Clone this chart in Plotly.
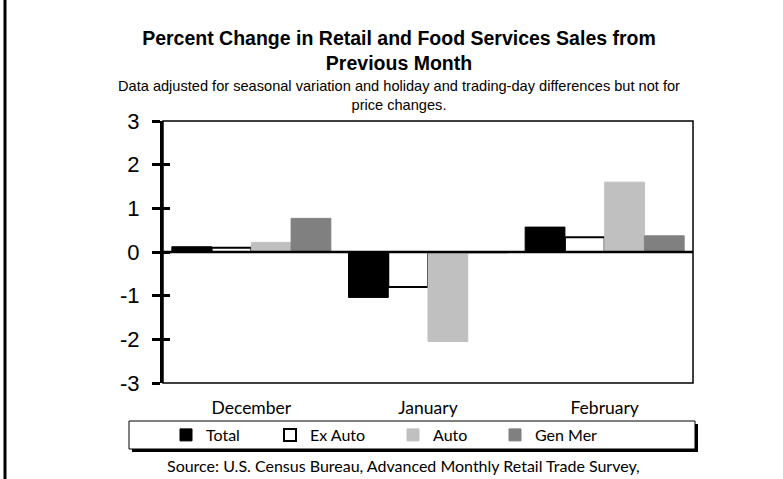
import plotly.graph_objects as go

months = ['December', 'January', 'February']
total = [0.12, -1.04, 0.57]
ex_auto = [0.10, -0.80, 0.34]
auto = [0.22, -2.05, 1.60]
gen_mer = [0.77, -0.02, 0.37]

y_ticks = [3, 2, 1, 0, -1, -2, -3]
y_labels = ['3', '2', '1', '0', '-1', '-2', '-3']

W, H = 783, 479
L, R, T, B = 163, 90, 121, 96
pw, ph = W - L - R, H - T - B


def px_x(p):
    return (p - L) / pw


def px_y(p):
    return (H - B - p) / ph


fig = go.Figure()
fig.add_trace(go.Bar(x=months, y=total, name='Total', legend='legend',
                     marker=dict(color='black', line=dict(color='black', width=1))))
fig.add_trace(go.Bar(x=months, y=ex_auto, name='Ex Auto', legend='legend2',
                     marker=dict(color='white', line=dict(color='black', width=2))))
fig.add_trace(go.Bar(x=months, y=auto, name='Auto', legend='legend3',
                     marker=dict(color='#c0c0c0', line=dict(color='#c0c0c0', width=1))))
fig.add_trace(go.Bar(x=months, y=gen_mer, name='Gen Mer', legend='legend4',
                     marker=dict(color='#808080', line=dict(color='#808080', width=1))))

# invisible trace on a second y axis to get the inner half of the ticks
fig.add_trace(go.Scatter(x=months, y=[None] * 3, yaxis='y2', showlegend=False,
                         hoverinfo='skip'))

shapes = [
    # plot frame
    dict(type='rect', xref='paper', yref='paper', x0=0, x1=1, y0=0, y1=1,
         line=dict(color='black', width=1.5), layer='above'),
    # zero line
    dict(type='line', xref='paper', yref='y', x0=0, x1=1, y0=0, y1=0,
         line=dict(color='black', width=2.5), layer='above'),
    # legend shadow and box
    dict(type='rect', xref='paper', yref='paper',
         x0=px_x(132), x1=px_x(698), y0=px_y(424), y1=px_y(452),
         line=dict(width=0), fillcolor='black', layer='below'),
    dict(type='rect', xref='paper', yref='paper',
         x0=px_x(129), x1=px_x(695), y0=px_y(421), y1=px_y(449),
         line=dict(color='black', width=1), fillcolor='white', layer='below'),
    # page border on the left
    dict(type='line', xref='paper', yref='paper',
         x0=px_x(5), x1=px_x(5), y0=px_y(0), y1=px_y(H),
         line=dict(color='black', width=3)),
]

legend_style = dict(orientation='h', xanchor='left', yanchor='middle',
                    bgcolor='rgba(0,0,0,0)', itemwidth=30,
                    font=dict(family='Lato, Open Sans', size=16))
legend_left = [166, 270, 393, 495]

fig.update_layout(
    width=W, height=H,
    margin=dict(l=L, r=R, t=T, b=B, autoexpand=False),
    paper_bgcolor='white', plot_bgcolor='white',
    barmode='group', bargap=0.1, bargroupgap=0,
    font=dict(family='Liberation Sans, Arial', color='black'),
    title=dict(
        text='<b>Percent Change in Retail and Food Services Sales from<br>Previous Month</b>',
        x=px_x(399), xref='paper', xanchor='center',
        y=1 - 45 / H, yanchor='top',
        font=dict(size=19.5, family='Liberation Sans, Arial')),
    xaxis=dict(showline=False, ticks='', showgrid=False, zeroline=False,
               automargin=False,
               tickfont=dict(family='Lato, Open Sans', size=17.5),
               ticklabelstandoff=12),
    yaxis=dict(range=[-3, 3], tickvals=y_ticks, ticktext=y_labels,
               showgrid=False, zeroline=False, automargin=False,
               showline=True, linecolor='black', linewidth=3,
               ticks='outside', ticklen=8, tickwidth=3, tickcolor='black',
               tickfont=dict(size=22, family='Liberation Sans, Arial'),
               ticklabelstandoff=8),
    yaxis2=dict(range=[-3, 3], tickvals=y_ticks, overlaying='y', side='left',
                showgrid=False, zeroline=False, showline=False, automargin=False,
                ticks='inside', ticklen=7, tickwidth=3, tickcolor='black',
                showticklabels=False),
    legend=dict(legend_style, x=px_x(legend_left[0]), y=px_y(435)),
    legend2=dict(legend_style, x=px_x(legend_left[1]), y=px_y(435)),
    legend3=dict(legend_style, x=px_x(legend_left[2]), y=px_y(435)),
    legend4=dict(legend_style, x=px_x(legend_left[3]), y=px_y(435)),
    shapes=shapes,
    annotations=[
        dict(text='Data adjusted for seasonal variation and holiday and trading-day differences but not for<br>price changes.',
             xref='paper', yref='paper', x=px_x(399), y=px_y(76),
             xanchor='center', yanchor='top', showarrow=False,
             font=dict(size=14.6, family='Liberation Sans, Arial')),
        dict(text='Source: U.S. Census Bureau, Advanced Monthly Retail Trade Survey,',
             xref='paper', yref='paper', x=px_x(403), y=px_y(465),
             xanchor='center', yanchor='middle', showarrow=False,
             font=dict(size=16, family='Lato, Open Sans')),
    ],
)

# drop the default body margin so the figure sits at the page corner
fig.write_html('out.html', config={'displayModeBar': False},
               post_script="document.body.style.margin = '0';")
